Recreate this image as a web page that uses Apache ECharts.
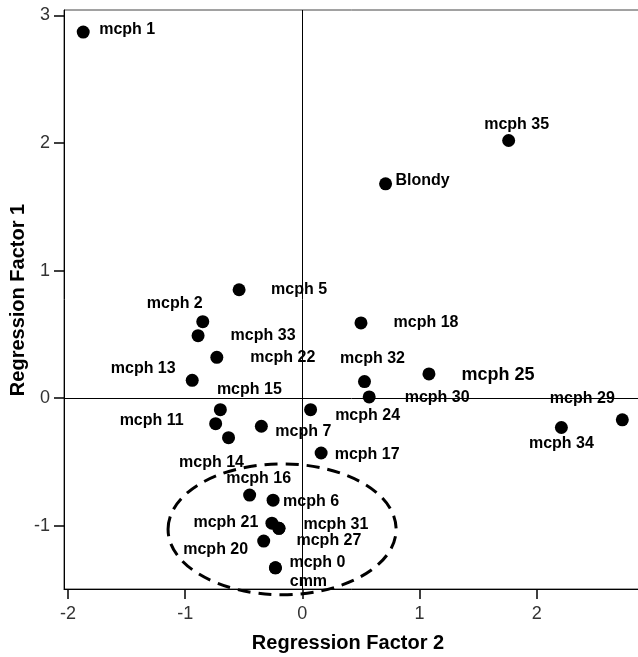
<!DOCTYPE html>
<html><head><meta charset="utf-8">
<script src="https://cdn.jsdelivr.net/npm/echarts@6/dist/echarts.min.js"></script>
<style>html,body{margin:0;padding:0;background:#fff}#c{width:638px;height:657px}</style>
</head><body><div id="c"></div>
<script>
// ---- data ----
const names = ['mcph 1','mcph 35','Blondy','mcph 5','mcph 2','mcph 33','mcph 22','mcph 13','mcph 18','mcph 32','mcph 30','mcph 25','mcph 15','mcph 11','mcph 14','mcph 7','mcph 24','mcph 17','mcph 34','mcph 29','mcph 16','mcph 6','mcph 21','mcph 31','mcph 27','mcph 20','mcph 0','cmm'];
const factor2 = [-1.87, 1.76, 0.71, -0.54, -0.85, -0.89, -0.73, -0.94, 0.50, 0.53, 0.57, 1.08, -0.70, -0.74, -0.63, -0.35, 0.07, 0.16, 2.21, 2.73, -0.45, -0.25, -0.26, -0.20, -0.20, -0.33, -0.23, -0.23];
const factor1 = [2.87, 2.02, 1.68, 0.85, 0.60, 0.49, 0.32, 0.14, 0.59, 0.13, 0.01, 0.19, -0.09, -0.20, -0.31, -0.22, -0.09, -0.43, -0.23, -0.17, -0.76, -0.80, -0.98, -1.02, -1.02, -1.12, -1.33, -1.33];
const xTicks = [-2, -1, 0, 1, 2];
const yTicks = [-1, 0, 1, 2, 3];
const xTitle = 'Regression Factor 2';
const yTitle = 'Regression Factor 1';
// dashed ellipse annotation (data units): centre x, centre y, radius x, radius y
const ellipseCenter = [-0.173, -1.028];
const ellipseRadius = [0.973, 0.513];

// ---- label placement (style) ----
const labelOffsets = {
  'mcph 1':[44,-2],'mcph 35':[8,-16],'Blondy':[37,-3],'mcph 5':[60,0],'mcph 2':[-28,-18],
  'mcph 33':[65,0],'mcph 22':[66,0],'mcph 13':[-49,-12],'mcph 18':[65,0],'mcph 32':[8,-23],
  'mcph 30':[68,1],'mcph 25':[69,1],'mcph 15':[29,-20],'mcph 11':[-64,-3],'mcph 14':[-17,25],
  'mcph 7':[42,5],'mcph 24':[57,6],'mcph 17':[46,2],'mcph 34':[0,16],'mcph 29':[-40,-21],
  'mcph 16':[9,-17],'mcph 6':[38,1],'mcph 21':[-46,-1],'mcph 31':[57,-4],'mcph 27':[50,12],
  'mcph 20':[-48,9],'mcph 0':[42,-5],'cmm':[33,14]
};
const bigLabels = {'mcph 25':18};

const FONT = 'Liberation Sans, Arial, sans-serif';
const chart = echarts.init(document.getElementById('c'), null, {renderer:'canvas'});
const xMin = -2.034, xMax = 3.717, yMin = -1.496, yMax = 3.043;

const pts = names.map((n,i)=>({
  name:n, value:[factor2[i], factor1[i]],
  label:{fontSize: bigLabels[n] || 16}
}));

chart.setOption({
  animation:false,
  backgroundColor:'#fff',
  grid:{left:64, top:10, bottom:68, right:-100, outerBoundsMode:'none', containLabel:false,
    show:true, borderColor:'#444', borderWidth:1, backgroundColor:'transparent'},
  title:{text:xTitle, left:343, top:628, textAlign:'center',
    textStyle:{fontFamily:FONT, fontSize:20, fontWeight:'bold', color:'#000'}},
  xAxis:{type:'value', min:xMin, max:xMax,
    axisLine:{show:true, onZero:false, lineStyle:{color:'#000', width:1}},
    axisTick:{show:true, customValues:xTicks, length:10, inside:false, lineStyle:{color:'#000', width:1.5}},
    axisLabel:{customValues:xTicks, margin:16, fontFamily:FONT, fontSize:18, color:'#333'},
    splitLine:{show:false}},
  yAxis:{type:'value', min:yMin, max:yMax,
    axisLine:{show:true, onZero:false, lineStyle:{color:'#000', width:1}},
    axisTick:{show:true, customValues:yTicks, length:10, inside:false, lineStyle:{color:'#000', width:1.5}},
    axisLabel:{customValues:yTicks, margin:14, fontFamily:FONT, fontSize:18, color:'#333'},
    splitLine:{show:false}},
  series:[{
    type:'scatter', symbol:'circle', symbolSize:13,
    itemStyle:{color:'#000', opacity:1},
    label:{show:true, position:'inside', formatter:'{b}', align:'center', verticalAlign:'middle',
      color:'#000', fontFamily:FONT, fontWeight:'bold', fontSize:16},
    labelLayout:function(p){
      const o = labelOffsets[names[p.dataIndex]] || [40,0];
      return {dx:o[0], dy:o[1], hideOverlap:false};
    },
    data:pts,
    markLine:{silent:true, symbol:'none', label:{show:false},
      lineStyle:{color:'#000', width:1, type:'solid'},
      data:[{xAxis:0},{yAxis:0}]},
    z:3
  }]
});

const c = chart.convertToPixel({gridIndex:0}, ellipseCenter);
const e = chart.convertToPixel({gridIndex:0}, [ellipseCenter[0]+ellipseRadius[0], ellipseCenter[1]+ellipseRadius[1]]);
chart.setOption({graphic:[
  {type:'ellipse', z:10,
   shape:{cx:c[0], cy:c[1], rx:Math.abs(e[0]-c[0]), ry:Math.abs(c[1]-e[1])},
   style:{fill:'none', stroke:'#000', lineWidth:3, lineDash:[13,8]}},
  {type:'text', x:18, y:300, rotation:Math.PI/2, z:10,
   style:{text:yTitle, align:'center', verticalAlign:'middle', fill:'#000',
     font:'bold 20px ' + FONT}}
]});
</script></body></html>
